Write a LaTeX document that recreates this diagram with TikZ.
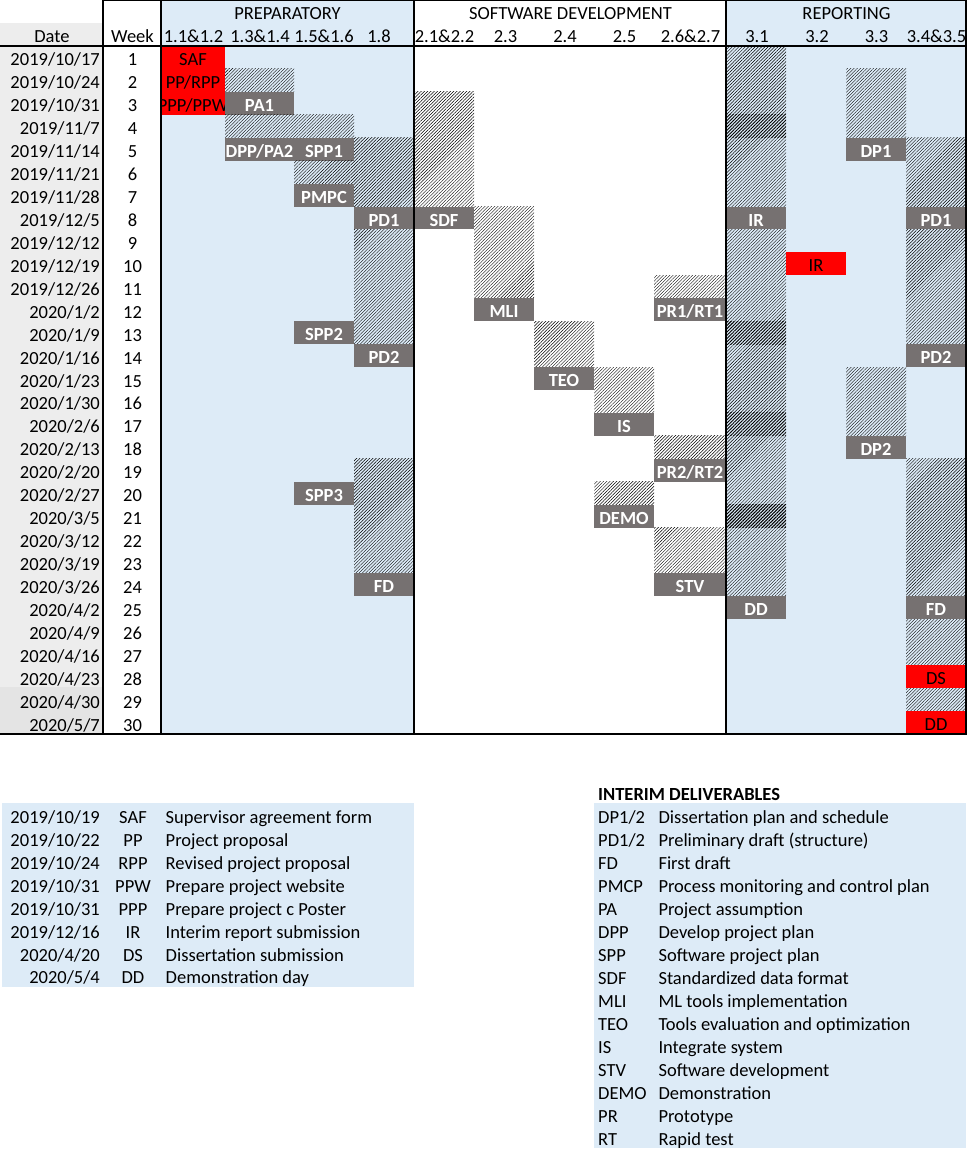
\documentclass[tikz,border=0pt]{standalone}
\usepackage{fontspec}
\setmainfont{Carlito}
\usetikzlibrary{patterns.meta}
\definecolor{cblue}{HTML}{DDEBF7}
\definecolor{cgrey}{HTML}{767171}
\definecolor{cred}{HTML}{FF0000}
\definecolor{cdate}{HTML}{EDEDED}
\definecolor{cdatetwo}{HTML}{E4E4E4}
\newcommand\RT[1]{46+(#1-1)*22.933}
\newcommand\RB[1]{46+(#1)*22.933}
\tikzset{
  hatchp/.style={pattern={Lines[angle=45,distance=2.3pt,line width=0.42pt]},pattern color=black},
  dhatchp/.style={pattern={Lines[angle=45,distance=2.3pt,line width=0.95pt]},pattern color=black},
  celltxt/.style={anchor=base,inner sep=0pt,font=\fontsize{18.5}{22}\selectfont},
  labtxt/.style={anchor=base,inner sep=0pt,text=white,font=\fontsize{18.5}{22}\selectfont\bfseries},
  frameline/.style={line width=1.3pt,black},
  legl/.style={anchor=base west,inner sep=0pt,font=\fontsize{18.5}{22}\selectfont},
  legr/.style={anchor=base east,inner sep=0pt,font=\fontsize{18.5}{22}\selectfont},
  legc/.style={anchor=base,inner sep=0pt,font=\fontsize{18.5}{22}\selectfont},
}
\newcommand\hatch[4]{\fill[hatchp] (#1,{\RT{#3}}) rectangle (#2,{\RB{#4}});}
\newcommand\dhatch[3]{\fill[dhatchp] (#1,{\RT{#3}}) rectangle (#2,{\RB{#3}});}
\newcommand\glab[5]{%
  \fill[cgrey] (#2,{\RT{#4}}) rectangle (#3,{\RB{#4}});
  \begin{scope}\clip (#2,{\RT{#4}}) rectangle (#3,{\RB{#4}});
  \node[labtxt] (#1) at ({(#2+#3)/2},{\RT{#4}+19.5}) {#5};\end{scope}}
\newcommand\rlab[5]{%
  \fill[cred] (#2,{\RT{#4}}) rectangle (#3,{\RB{#4}});
  \begin{scope}\clip (#2,{\RT{#4}}) rectangle (#3,{\RB{#4}});
  \node[celltxt] (#1) at ({(#2+#3)/2},{\RT{#4}+19.5}) {#5};\end{scope}}
\begin{document}
\begin{tikzpicture}[x=1pt,y=-1pt]
\useasboundingbox (0,0) rectangle (968,1150);
% backgrounds
\fill[white] (0,0) rectangle (968,1150);
\fill[cdate] (0,23) rectangle (103,687.3);
\fill[cdatetwo] (0,687.3) rectangle (103,734);
\fill[cblue] (161,0) rectangle (414,734);
\fill[cblue] (726,0) rectangle (966,734);
% hatched spans and labels
\rlab{saf}{161}{225}{1}{SAF}
\rlab{pprpp}{161}{225}{2}{PP/RPP}
\rlab{pppw}{161}{225}{3}{PPP/PPW}
\hatch{225}{294}{2}{2}
\glab{pa1}{225}{294}{3}{PA1}
\hatch{225}{354}{4}{4}
\glab{dpp}{225}{294}{5}{DPP/PA2}
\glab{spp1}{294}{354}{5}{SPP1}
\hatch{294}{354}{6}{6}
\glab{pmpc}{294}{354}{7}{PMPC}
\glab{spp2}{294}{354}{13}{SPP2}
\glab{spp3}{294}{354}{20}{SPP3}
\hatch{354}{414}{5}{7}
\glab{pdonea}{354}{414}{8}{PD1}
\hatch{354}{414}{9}{13}
\glab{pdtwoa}{354}{414}{14}{PD2}
\hatch{354}{414}{19}{23}
\glab{fda}{354}{414}{24}{FD}
\hatch{414}{474}{3}{7}
\glab{sdf}{414}{474}{8}{SDF}
\hatch{474}{534}{8}{11}
\glab{mli}{474}{534}{12}{MLI}
\hatch{534}{594}{13}{14}
\glab{teo}{534}{594}{15}{TEO}
\hatch{594}{654}{15}{16}
\glab{is}{594}{654}{17}{IS}
\hatch{594}{654}{20}{20}
\glab{demo}{594}{654}{21}{DEMO}
\hatch{654}{726}{11}{11}
\glab{prone}{654}{726}{12}{PR1/RT1}
\hatch{654}{726}{18}{18}
\glab{prtwo}{654}{726}{19}{PR2/RT2}
\hatch{654}{726}{22}{23}
\glab{stv}{654}{726}{24}{STV}
\hatch{726}{786}{1}{3}
\dhatch{726}{786}{4}
\hatch{726}{786}{5}{7}
\glab{ir}{726}{786}{8}{IR}
\hatch{726}{786}{9}{12}
\dhatch{726}{786}{13}
\hatch{726}{786}{14}{16}
\dhatch{726}{786}{17}
\hatch{726}{786}{18}{20}
\dhatch{726}{786}{21}
\hatch{726}{786}{22}{24}
\glab{dd}{726}{786}{25}{DD}
\rlab{irb}{786}{846}{10}{IR}
\hatch{846}{906}{2}{4}
\glab{dpone}{846}{906}{5}{DP1}
\hatch{846}{906}{15}{17}
\glab{dptwo}{846}{906}{18}{DP2}
\hatch{906}{966}{5}{7}
\glab{pdoneb}{906}{966}{8}{PD1}
\hatch{906}{966}{9}{13}
\glab{pdtwob}{906}{966}{14}{PD2}
\hatch{906}{966}{19}{24}
\glab{fdb}{906}{966}{25}{FD}
\hatch{906}{966}{26}{27}
\rlab{ds}{906}{966}{28}{DS}
\hatch{906}{966}{29}{29}
\rlab{ddb}{906}{966}{30}{DD}
% frame lines
\draw[frameline] (103,0.6) -- (966,0.6);
\draw[frameline] (0,46) -- (966,46);
\draw[frameline] (0,734) -- (966,734);
\foreach \xx in {103,161,414,726,966} \draw[frameline] (\xx,0) -- (\xx,734.6);
% header
\node[celltxt] (hprep) at (287.5,20) {PREPARATORY};
\node[celltxt] (hsoft) at (570.5,20) {SOFTWARE DEVELOPMENT};
\node[celltxt] (hrep) at (846.5,20) {REPORTING};
\node[celltxt] (hdate) at (52,42.5) {Date};
\node[celltxt] (hweek) at (132.5,42.5) {Week};
\foreach \cx/\lab [count=\k] in {193.5/1.1\&1.2,260/1.3\&1.4,324/1.5\&1.6,379/1.8,444.5/2.1\&2.2,505.5/2.3,565/2.4,624.5/2.5,690.5/2.6\&2.7,757/3.1,817/3.2,876.5/3.3,936.5/3.4\&3.5}
  \node[celltxt] (col\k) at (\cx,42.5) {\lab};
% dates and weeks
\foreach \d [count=\i] in {{2019/10/17},{2019/10/24},{2019/10/31},{2019/11/7},{2019/11/14},{2019/11/21},{2019/11/28},{2019/12/5},{2019/12/12},{2019/12/19},{2019/12/26},{2020/1/2},{2020/1/9},{2020/1/16},{2020/1/23},{2020/1/30},{2020/2/6},{2020/2/13},{2020/2/20},{2020/2/27},{2020/3/5},{2020/3/12},{2020/3/19},{2020/3/26},{2020/4/2},{2020/4/9},{2020/4/16},{2020/4/23},{2020/4/30},{2020/5/7}}{
  \node[legr] (d\i) at (100,{\RT{\i}+20}) {\d};
  \node[legc] (w\i) at (132.5,{\RT{\i}+20}) {\i};
}
% left legend
\fill[cblue] (1.5,803) rectangle (414,987);
\foreach \dt/\ab/\ds [count=\i] in {{2019/10/19}/SAF/Supervisor agreement form,{2019/10/22}/PP/Project proposal,{2019/10/24}/RPP/Revised project proposal,{2019/10/31}/PPW/Prepare project website,{2019/10/31}/PPP/Prepare project c Poster,{2019/12/16}/IR/Interim report submission,{2020/4/20}/DS/Dissertation submission,{2020/5/4}/DD/Demonstration day}{
  \node[legr] (ld\i) at (100,{823.3+(\i-1)*22.95}) {\dt};
  \node[legc] (la\i) at (133,{823.3+(\i-1)*22.95}) {\ab};
  \node[legl] (ls\i) at (165.5,{823.3+(\i-1)*22.95}) {\ds};
}
% right legend
\node[anchor=base west,inner sep=0pt,font=\fontsize{18.5}{22}\selectfont\bfseries] (ihead) at (598,800) {INTERIM DELIVERABLES};
\fill[cblue] (594,803) rectangle (966,1148);
\foreach \ab/\ds [count=\i] in {{DP1/2}/Dissertation plan and schedule,{PD1/2}/Preliminary draft (structure),FD/First draft,PMCP/Process monitoring and control plan,PA/Project assumption,DPP/Develop project plan,SPP/Software project plan,SDF/Standardized data format,MLI/ML tools implementation,TEO/Tools evaluation and optimization,IS/Integrate system,STV/Software development,DEMO/Demonstration,PR/Prototype,RT/Rapid test}{
  \node[legl] (ra\i) at (598,{823.3+(\i-1)*22.98}) {\ab};
  \node[legl] (rs\i) at (658.3,{823.3+(\i-1)*22.98}) {\ds};
}
\end{tikzpicture}
\end{document}
